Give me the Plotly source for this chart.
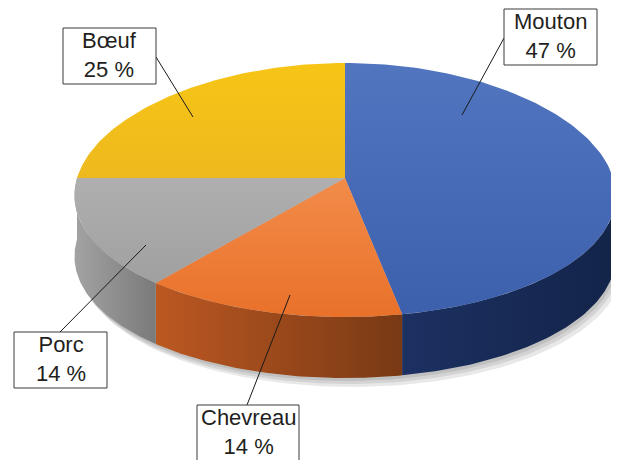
import numpy as np
import plotly.graph_objects as go

# ---- data ----
categories = ["Mouton", "Chevreau", "Porc", "Bœuf"]
values = [47, 14, 14, 25]

# ---- styles (kept separate from data) ----
top_colors = {
    "Mouton": ("#5275C0", "#3C60AC"),
    "Chevreau": ("#F28C4A", "#E9712A"),
    "Porc": ("#AFAFAF", "#A0A0A0"),
    "Bœuf": ("#F7C516", "#EEB91E"),
}
side_colors = {
    "Mouton": ("#1C3162", "#132449"),
    "Chevreau": ("#BC5822", "#783914"),
    "Porc": ("#A3A3A3", "#7A7A7A"),
    "Bœuf": ("#C99A10", "#A07A0A"),
}
# label boxes (x0, y0, x1, y1) and leader line (box-side point, slice point)
label_layout = {
    "Mouton": dict(box=(504, 9, 597, 65), l=((504, 38), (462, 115))),
    "Bœuf": dict(box=(63, 28, 156, 84), l=((156, 57), (193, 117))),
    "Porc": dict(box=(14, 332, 107, 388), l=((60, 332), (146, 245))),
    "Chevreau": dict(box=(197, 405, 299, 470), l=((247, 405), (290, 295))),
}

# ---- geometry of the tilted pie ----
CX, CY = 345, 178
RX, RY, RY_SKEW, PERSP = 268, 127, 12, 0.14
DEPTH = 61
OFF = 8  # page body margin compensation


def proj(theta_deg, dz=0.0):
    t = np.radians(theta_deg)
    c, s = np.cos(t), np.sin(t)
    x = CX + RX * s * (1 - PERSP * c)
    y = CY - RY * c + RY_SKEW * c * c + dz
    return x, y


total = float(sum(values))
angles = np.cumsum([0] + [v / total * 360 for v in values])

fig = go.Figure()

# soft shadow under the pie
th = np.linspace(0, 360, 200)
for ox, oy in [(2, 3), (4, 6), (7, 9)]:
    x, y = proj(th, DEPTH)
    fig.add_trace(go.Scatter(x=x + ox, y=y + oy, fill="toself", mode="lines",
                             line=dict(width=0), fillcolor="rgba(0,0,0,0.09)",
                             hoverinfo="skip", showlegend=False))

# side walls (front half only)
for i, cat in enumerate(categories):
    a, b = max(angles[i], 90), min(angles[i + 1], 270)
    if b <= a:
        continue
    th = np.linspace(a, b, 80)
    xt, yt = proj(th)
    xb, yb = proj(th[::-1], DEPTH)
    xs = np.concatenate([xt, xb, xt[:1]])
    ys = np.concatenate([yt, yb, yt[:1]])
    c0, c1 = side_colors[cat]
    fig.add_trace(go.Scatter(
        x=xs, y=ys, fill="toself", mode="lines", line=dict(width=0),
        fillgradient=dict(type="horizontal", colorscale=[[0, c0], [1, c1]],
                          start=float(xs.min()), stop=float(xs.max())),
        hoverinfo="skip", showlegend=False))

# top faces
for i, cat in enumerate(categories):
    th = np.linspace(angles[i], angles[i + 1], 120)
    xa, ya = proj(th)
    xs = np.concatenate([[CX], xa, [CX]])
    ys = np.concatenate([[CY], ya, [CY]])
    c0, c1 = top_colors[cat]
    fig.add_trace(go.Scatter(
        x=xs, y=ys, fill="toself", mode="lines", line=dict(width=0),
        fillgradient=dict(type="vertical", colorscale=[[0, c0], [1, c1]],
                          start=float(ys.min()), stop=float(ys.max())),
        hoverinfo="skip", showlegend=False))

# labels
annotations, shapes = [], []
for cat, v in zip(categories, values):
    L = label_layout[cat]
    (x0, y0), (x1, y1) = L["l"]
    shapes.append(dict(type="line", xref="x", yref="y", x0=x0, y0=y0, x1=x1, y1=y1,
                       line=dict(color="#1a1a1a", width=1)))
    bx0, by0, bx1, by1 = L["box"]
    shapes.append(dict(type="rect", xref="x", yref="y", x0=bx0, y0=by0, x1=bx1, y1=by1,
                       fillcolor="white", line=dict(color="#3a3a3a", width=1)))
    annotations.append(dict(
        x=(bx0 + bx1) / 2, y=by0 + 27, xref="x", yref="y", showarrow=False,
        text=f"{cat}<br>{v} %",
        font=dict(family="Liberation Sans, Arial, sans-serif", size=22, color="#231f20"),
        align="center", xanchor="center", yanchor="middle"))

fig.update_layout(
    width=619, height=460, autosize=False,
    margin=dict(l=0, r=0, t=0, b=0),
    paper_bgcolor="white", plot_bgcolor="white",
    xaxis=dict(range=[OFF, 619 + OFF], visible=False, fixedrange=True),
    yaxis=dict(range=[460 + OFF, OFF], visible=False, fixedrange=True),
    shapes=shapes, annotations=annotations,
    showlegend=False,
)

fig.write_html("out.html")
